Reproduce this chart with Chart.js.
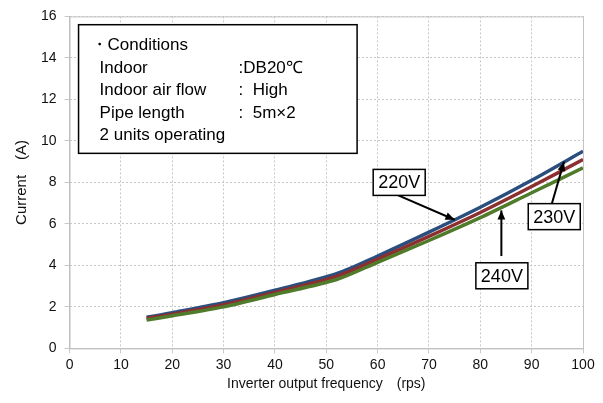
<!DOCTYPE html>
<html lang="en">
<head>
<meta charset="UTF-8">
<title>Current vs frequency</title>
<script src="https://cdn.jsdelivr.net/npm/chart.js"></script>
<style>
  html, body { margin: 0; padding: 0; background: #fff; }
  #wrap { width: 603px; height: 403px; }
</style>
</head>
<body>
<div id="wrap"><canvas id="myChart" width="603" height="403"></canvas></div>
<script>
// frequency points (rps)
const freq = [15, 20, 30, 40, 52, 60, 70, 80, 90, 100];
// current (A) for each supply voltage
const amps220 = [1.5, 1.72, 2.2, 2.8, 3.6, 4.45, 5.6, 6.8, 8.1, 9.5];
const amps230 = [1.45, 1.65, 2.1, 2.7, 3.47, 4.3, 5.4, 6.55, 7.8, 9.1];
const amps240 = [1.37, 1.57, 2.0, 2.6, 3.32, 4.15, 5.2, 6.3, 7.5, 8.7];

const xTicks = [0, 10, 20, 30, 40, 50, 60, 70, 80, 90, 100];
const yTicks = [0, 2, 4, 6, 8, 10, 12, 14, 16];

const conditionLines = [
  ['・Conditions', ''],
  ['Indoor', ':DB20℃'],
  ['Indoor air flow', ':  High'],
  ['Pipe length', ':  5m×2'],
  ['2 units operating', '']
];

// voltage labels: box centre and arrow tip, in data units
const labels = [
  { text: '220V', box: [64.2, 8.0], from: [63.8, 7.4], to: [75.0, 6.2] },
  { text: '240V', box: [84.2, 3.5], from: [84.1, 4.45], to: [84.1, 6.65] },
  { text: '230V', box: [94.4, 6.35], from: [93.9, 6.95], to: [96.3, 9.0] }
];

const FONT = '"Liberation Sans", Arial, sans-serif';

const toPts = ys => freq.map((f, i) => ({ x: f, y: ys[i] }));

const overlay = {
  id: 'overlay',
  afterDatasetsDraw(chart) {
    const { ctx, chartArea: a, scales: { x, y } } = chart;
    ctx.save();
    // plot frame
    ctx.strokeStyle = '#c4c4c4';
    ctx.lineWidth = 1;
    ctx.strokeRect(a.left + 0.5, a.top + 0.5, a.right - a.left, a.bottom - a.top);

    // conditions box
    const bx0 = x.getPixelForValue(1.75), bx1 = x.getPixelForValue(56);
    const by0 = y.getPixelForValue(15.6), by1 = y.getPixelForValue(9.4);
    ctx.fillStyle = '#fff';
    ctx.fillRect(bx0, by0, bx1 - bx0, by1 - by0);
    ctx.strokeStyle = '#000';
    ctx.lineWidth = 1.5;
    ctx.strokeRect(bx0, by0, bx1 - bx0, by1 - by0);
    ctx.fillStyle = '#000';
    ctx.font = '17px ' + FONT;
    ctx.textBaseline = 'middle';
    conditionLines.forEach((ln, i) => {
      const ty = by0 + 21 + i * 22.5;
      ctx.fillText(ln[0], ln[0].startsWith('・') ? bx0 + 12 : bx0 + 21, ty);
      if (ln[1]) ctx.fillText(ln[1], bx0 + 160, ty);
    });

    // voltage labels with arrows
    ctx.font = '18px ' + FONT;
    ctx.textAlign = 'center';
    labels.forEach(l => {
      const fx = x.getPixelForValue(l.from[0]), fy = y.getPixelForValue(l.from[1]);
      const tx = x.getPixelForValue(l.to[0]), ty = y.getPixelForValue(l.to[1]);
      ctx.strokeStyle = '#000';
      ctx.lineWidth = 2;
      ctx.beginPath();
      ctx.moveTo(fx, fy);
      ctx.lineTo(tx, ty);
      ctx.stroke();
      const ang = Math.atan2(ty - fy, tx - fx);
      ctx.beginPath();
      ctx.moveTo(tx, ty);
      ctx.lineTo(tx - 10 * Math.cos(ang - 0.4), ty - 10 * Math.sin(ang - 0.4));
      ctx.lineTo(tx - 10 * Math.cos(ang + 0.4), ty - 10 * Math.sin(ang + 0.4));
      ctx.closePath();
      ctx.fillStyle = '#000';
      ctx.fill();

      const cx = x.getPixelForValue(l.box[0]), cy = y.getPixelForValue(l.box[1]);
      const w = 52, h = 26;
      ctx.fillStyle = '#fff';
      ctx.fillRect(cx - w / 2, cy - h / 2, w, h);
      ctx.lineWidth = 1.5;
      ctx.strokeRect(cx - w / 2, cy - h / 2, w, h);
      ctx.fillStyle = '#000';
      ctx.fillText(l.text, cx, cy + 1);
    });
    ctx.restore();
  }
};

const lineDs = (label, data, color) => ({
  label, data: toPts(data), borderColor: color, borderWidth: 3.5,
  pointRadius: 0, tension: 0.3, fill: false
});

const gridStyle = { color: '#c8c8c8', lineWidth: 1, tickLength: 5, drawTicks: true };
const borderStyle = { display: true, color: '#bfbfbf', width: 1, dash: [2, 2] };

new Chart(document.getElementById('myChart').getContext('2d'), {
  type: 'line',
  data: {
    datasets: [
      lineDs('240V', amps240, '#4f7b2b'),
      lineDs('230V', amps230, '#8b2f31'),
      lineDs('220V', amps220, '#2a4f7e')
    ]
  },
  options: {
    responsive: false,
    animation: false,
    layout: { padding: { top: 12, right: 20, left: 9, bottom: 6 } },
    plugins: { legend: { display: false }, tooltip: { enabled: false } },
    scales: {
      x: {
        type: 'linear', min: 0, max: 100,
        afterBuildTicks: s => { s.ticks = xTicks.map(v => ({ value: v })); },
        grid: gridStyle,
        border: borderStyle,
        ticks: { color: '#111', font: { family: FONT, size: 14 }, padding: 3, maxRotation: 0 },
        title: { display: true, text: 'Inverter output frequency　(rps)', color: '#111',
                 font: { family: FONT, size: 14 }, padding: { top: 0 } }
      },
      y: {
        min: 0, max: 16,
        afterBuildTicks: s => { s.ticks = yTicks.map(v => ({ value: v })); },
        grid: gridStyle,
        border: borderStyle,
        ticks: { color: '#111', font: { family: FONT, size: 14 }, padding: 8 },
        title: { display: true, text: 'Current　(A)', color: '#111',
                 font: { family: FONT, size: 15 }, padding: { bottom: 2 } }
      }
    }
  },
  plugins: [overlay]
});
</script>
</body>
</html>
